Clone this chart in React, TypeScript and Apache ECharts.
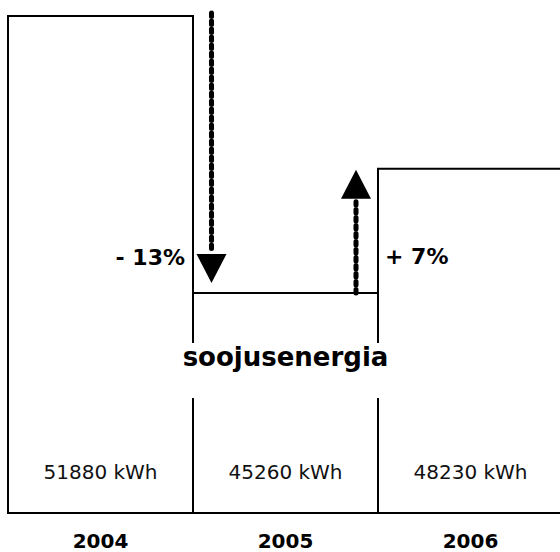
import React, { useEffect, useRef } from "react";
import * as echarts from "echarts";

const years = ["2004", "2005", "2006"];
const energyKWh = [51880, 45260, 48230];
const seriesName = "soojusenergia";
const unit = "kWh";
const axisMin = 40000;
const axisMax = 52000;

const FONT = "'DejaVu Sans', Verdana, sans-serif";

function pct(a: number, b: number): string {
  const v = Math.round(((b - a) / a) * 100);
  return v < 0 ? `- ${Math.abs(v)}%` : `+ ${v}%`;
}

export default function App() {
  const ref = useRef<HTMLDivElement>(null);
  useEffect(() => {
    document.body.style.margin = "0";
    const chart = echarts.init(ref.current!, null, { renderer: "svg" });
    chart.setOption({
      animation: false,
      grid: { left: 8, top: 11, width: 555, height: 502, outerBoundsMode: "none", containLabel: false },
      xAxis: {
        type: "category",
        data: years,
        axisLine: { show: false },
        axisTick: { show: false },
        axisLabel: { margin: 18, fontSize: 20, fontWeight: "bold", color: "#000", fontFamily: FONT },
      },
      yAxis: { type: "value", min: axisMin, max: axisMax, show: false, splitLine: { show: false } },
      series: [
        {
          type: "custom",
          name: seriesName,
          clip: false,
          data: energyKWh.map((v, i) => [i, v]),
          renderItem: (_params: any, api: any) => {
            const i = api.value(0);
            const v = api.value(1);
            const top = api.coord([i, v]);
            const bottom = api.coord([i, axisMin]);
            const w = api.size([1, 0])[0];
            return {
              type: "group",
              children: [
                {
                  type: "rect",
                  shape: { x: top[0] - w / 2, y: top[1], width: w, height: bottom[1] - top[1] },
                  style: { fill: "#fff", stroke: "#000", lineWidth: 2 },
                },
                {
                  type: "text",
                  x: top[0],
                  y: bottom[1] - 41,
                  style: {
                    text: `${v} ${unit}`,
                    font: `20px ${FONT}`,
                    fill: "#111",
                    align: "center",
                    verticalAlign: "middle",
                  },
                },
              ],
            };
          },
        },
      ],
    });

    const px = (i: number) => chart.convertToPixel({ xAxisIndex: 0 }, years[i]) as number;
    const py = (v: number) => chart.convertToPixel({ yAxisIndex: 0 }, v) as number;
    const x0 = px(0), x1 = px(1), x2 = px(2);
    const b01 = (x0 + x1) / 2;
    const b12 = (x1 + x2) / 2;
    const y0 = py(energyKWh[0]);
    const y1 = py(energyKWh[1]);
    const y2 = py(energyKWh[2]);

    const dash = { stroke: "#000", lineWidth: 5, lineDash: [3.5, 4.5], lineCap: "round" };
    const dx = b01 + 18.5;
    const ux = b12 - 22;

    chart.setOption({
      graphic: [
        { type: "rect", z: 10, shape: { x: x1 - 106, y: y1 + 50, width: 212, height: 55 }, style: { fill: "#fff" } },
        {
          type: "text", z: 11, x: x1, y: y1 + 64,
          style: { text: seriesName, font: `bold 26px ${FONT}`, fill: "#000", align: "center", verticalAlign: "middle" },
        },
        { type: "line", z: 11, shape: { x1: dx, y1: y0 - 3, x2: dx, y2: y1 - 42 }, style: dash },
        { type: "polygon", z: 11, shape: { points: [[dx - 15, y1 - 39], [dx + 15, y1 - 39], [dx, y1 - 10]] }, style: { fill: "#000" } },
        { type: "line", z: 11, shape: { x1: ux, y1: y1, x2: ux, y2: y2 + 33 }, style: dash },
        { type: "polygon", z: 11, shape: { points: [[ux - 15, y2 + 30], [ux + 15, y2 + 30], [ux, y2 + 1]] }, style: { fill: "#000" } },
        {
          type: "text", z: 11, x: b01 - 8, y: y1 - 35,
          style: { text: pct(energyKWh[0], energyKWh[1]), font: `bold 22px ${FONT}`, fill: "#000", align: "right", verticalAlign: "middle" },
        },
        {
          type: "text", z: 11, x: b12 + 7, y: y1 - 36,
          style: { text: pct(energyKWh[1], energyKWh[2]), font: `bold 22px ${FONT}`, fill: "#000", align: "left", verticalAlign: "middle" },
        },
      ],
    });
    return () => chart.dispose();
  }, []);
  return <div ref={ref} style={{ width: 560, height: 552 }} />;
}
